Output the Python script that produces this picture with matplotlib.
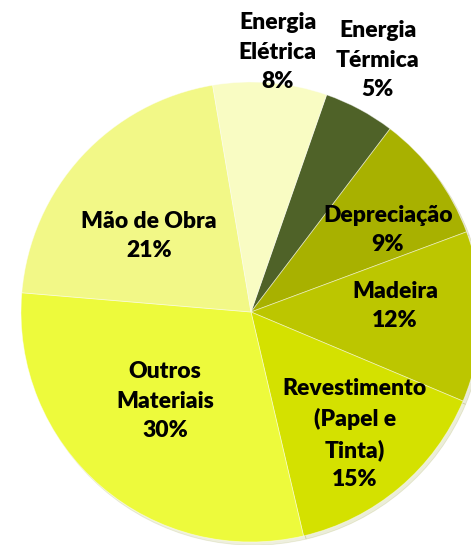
import numpy as np
import matplotlib
matplotlib.use("Agg")
import matplotlib.pyplot as plt

labels = ["Energia\nTérmica", "Depreciação", "Madeira", "Revestimento\n(Papel e\nTinta)",
          "Outros\nMateriais", "Mão de Obra", "Energia\nElétrica"]
values = [5, 9, 12, 15, 30, 21, 8]
colors = ["#4F6228", "#A8B100", "#BCC600", "#D4E100", "#EDFA3C", "#F2F887", "#F9FCC3"]
# label placement (style): radial distance and angular offset (deg, clockwise)
label_dist = [1.226, 0.694, 0.627, 0.697, 0.538, 0.553, 1.136]
label_off = [-1.5, 5.7, -3.6, -0.2, 3.2, -5.9, 1.1]

W, H = 471, 545
cx, cy, R = 251, 312, 230

fig = plt.figure(figsize=(W / 100, H / 100), dpi=100)
ax = fig.add_axes([0, 0, 1, 1])
start = 90 - 19.2
wedges, _ = ax.pie(values, colors=colors, startangle=start, counterclock=False,
                   radius=1.0, center=(0, 0),
                   wedgeprops=dict(linewidth=0.6, edgecolor="#FFFFFF80"),
                   shadow=dict(ox=0.008, oy=-0.01, shade=0.4, alpha=0.15))
ax.set_aspect("auto")
ax.set_xlim(-cx / R, (W - cx) / R)
ax.set_ylim(-(H - cy) / R, cy / R)
ax.axis("off")

for w, lab, v, d, off in zip(wedges, labels, values, label_dist, label_off):
    ang = np.deg2rad((w.theta1 + w.theta2) / 2 - off)
    x, y = d * np.cos(ang), d * np.sin(ang)
    ax.text(x, y, f"{lab}\n{v}%", ha="center", va="center", fontsize=16.5,
            fontweight="heavy", family=["Lato", "DejaVu Sans"], linespacing=1.5,
            color="black")

fig.savefig("out.png", dpi=100)
